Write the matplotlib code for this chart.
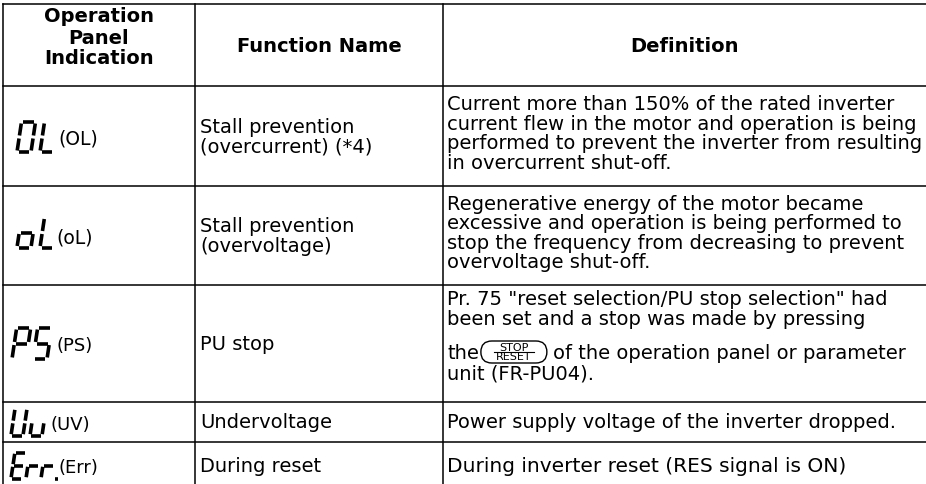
import matplotlib
matplotlib.use("Agg")
import matplotlib.pyplot as plt
from matplotlib.patches import FancyBboxPatch

plt.rcParams['font.family'] = ['DejaVu Sans']

# table content
headers = ["Operation\nPanel\nIndication", "Function Name", "Definition"]
codes = ["OL", "oL", "PS", "Uu", "Err."]
code_labels = ["(OL)", "(oL)", "(PS)", "(UV)", "(Err)"]
func_names = [
    ["Stall prevention", "(overcurrent) (*4)"],
    ["Stall prevention", "(overvoltage)"],
    ["PU stop"],
    ["Undervoltage"],
    ["During reset"],
]
definitions = [
    ["Current more than 150% of the rated inverter",
     "current flew in the motor and operation is being",
     "performed to prevent the inverter from resulting",
     "in overcurrent shut-off."],
    ["Regenerative energy of the motor became",
     "excessive and operation is being performed to",
     "stop the frequency from decreasing to prevent",
     "overvoltage shut-off."],
    ['Pr. 75 "reset selection/PU stop selection" had',
     "been set and a stop was made by pressing",
     "the {key} of the operation panel or parameter",
     "unit (FR-PU04)."],
    ["Power supply voltage of the inverter dropped."],
    ["During inverter reset (RES signal is ON)"],
]
key_top, key_bottom = "STOP", "RESET"

# layout (pixels)
W, H = 926, 485
col_x = [2.5, 195, 443]
row_y = [5, 87, 187, 286, 403, 443, 490]
FS = 14
LINE = 19.5

# seven segment glyph table
SEGS = {
    'a': ((0, 0), (1, 0)), 'b': ((1, 0), (1, 0.5)), 'c': ((1, 0.5), (1, 1)),
    'd': ((0, 1), (1, 1)), 'e': ((0, 0.5), (0, 1)), 'f': ((0, 0), (0, 0.5)),
    'g': ((0, 0.5), (1, 0.5)),
}
GLYPHS = {'O': "abcdef", 'L': "def", 'o': "cdeg", 'P': "abefg", 'S': "acdfg",
          'U': "bcdef", 'u': "cde", 'E': "adefg", 'r': "eg"}
# (width, height, pitch) per row
seg_size = [(14, 30, 23), (14, 30, 23), (14, 31, 21), (12, 27, 19), (11, 26, 15)]
seg_x0 = [17, 17, 12, 11, 11]
seg_dy = [1, -3, 0, 0, 0]
label_x = [58, 56, 57, 50, 58]


def draw_segments(ax, text, x0, yc, w, h, pitch):
    slant = 0.15
    top = yc - h / 2
    x = x0
    for ch in text:
        if ch == '.':
            px = x - pitch + w + 3
            ax.plot([px, px + 3], [top + h, top + h], color='black',
                    lw=2.6, solid_capstyle='butt')
            continue
        for s in GLYPHS[ch]:
            (u1, v1), (u2, v2) = SEGS[s]
            if u1 == u2:
                v1, v2 = v1 + 0.05, v2 - 0.05
            else:
                u1, u2 = u1 + 0.11, u2 - 0.11
            xs, ys = [], []
            for u, v in ((u1, v1), (u2, v2)):
                ys.append(top + v * h)
                xs.append(x + u * w + slant * (1 - v) * h)
            ax.plot(xs, ys, color='black', lw=2.6, solid_capstyle='butt')
        x += pitch


fig = plt.figure(figsize=(W / 100, H / 100), dpi=100)
ax = fig.add_axes([0, 0, 1, 1])
ax.set_xlim(0, W)
ax.set_ylim(H, 0)
ax.axis('off')

for x in col_x:
    ax.plot([x, x], [row_y[0], H], color='black', lw=1.1)
for y in row_y[:-1]:
    ax.plot([col_x[0], W], [y, y], color='black', lw=1.1)

# header
hlines = headers[0].split("\n")
for i, t in enumerate(hlines):
    ax.text((col_x[0] + col_x[1]) / 2, 38 + (i - 1) * 21, t, ha='center',
            va='center', fontsize=FS, fontweight='bold')
ax.text((col_x[1] + col_x[2]) / 2, 46, headers[1], ha='center', va='center',
        fontsize=FS, fontweight='bold')
ax.text((col_x[2] + W) / 2, 46, headers[2], ha='center', va='center',
        fontsize=FS, fontweight='bold')

fig.canvas.draw()
renderer = fig.canvas.get_renderer()
inv = ax.transData.inverted()

for r in range(len(codes)):
    yc = (row_y[r + 1] + row_y[r + 2]) / 2
    w, h, p = seg_size[r]
    draw_segments(ax, codes[r], seg_x0[r], yc + seg_dy[r], w, h, p)
    ax.text(label_x[r], yc + 2, code_labels[r], ha='left', va='center',
            fontsize=FS - 0.5 if r < 2 else FS - 1)

    lines = func_names[r]
    n = len(lines)
    for i, t in enumerate(lines):
        ax.text(col_x[1] + 5, yc + (i - (n - 1) / 2) * LINE, t, ha='left',
                va='center', fontsize=FS)

    lines = definitions[r]
    n = len(lines)
    for i, t in enumerate(lines):
        if r == 2:
            ly = row_y[r + 1] + 14 + i * 20 + (14 if i >= 2 else 0)
        elif n > 1:
            ly = yc - 3 + (i - (n - 1) / 2) * LINE
        else:
            ly = yc
        if "{key}" in t:
            pre, post = t.split("{key}")
            t1 = ax.text(col_x[2] + 4, ly, pre.rstrip(), ha='left', va='center',
                         fontsize=FS)
            bb = t1.get_window_extent(renderer)
            x_end = inv.transform((bb.x1, 0))[0]
            kx0, kw, kh = x_end + 2, 66, 22
            ax.add_patch(FancyBboxPatch((kx0, ly - kh / 2 - 1), kw, kh,
                                        boxstyle="round,pad=0,rounding_size=11",
                                        fc='none', ec='black', lw=1.0))
            ax.text(kx0 + kw / 2, ly - 6, key_top, ha='center', va='center',
                    fontsize=8)
            ax.text(kx0 + kw / 2, ly + 3.5, key_bottom, ha='center', va='center',
                    fontsize=8)
            ax.plot([kx0 + 13, kx0 + kw - 13], [ly - 1, ly - 1], color='black',
                    lw=0.8)
            ax.text(kx0 + kw + 6, ly, post.lstrip(), ha='left', va='center',
                    fontsize=FS)
        else:
            ax.text(col_x[2] + 4, ly, t, ha='left', va='center',
                    fontsize=FS + 0.5 if r == 4 else FS)

fig.savefig("out.png", dpi=100)
